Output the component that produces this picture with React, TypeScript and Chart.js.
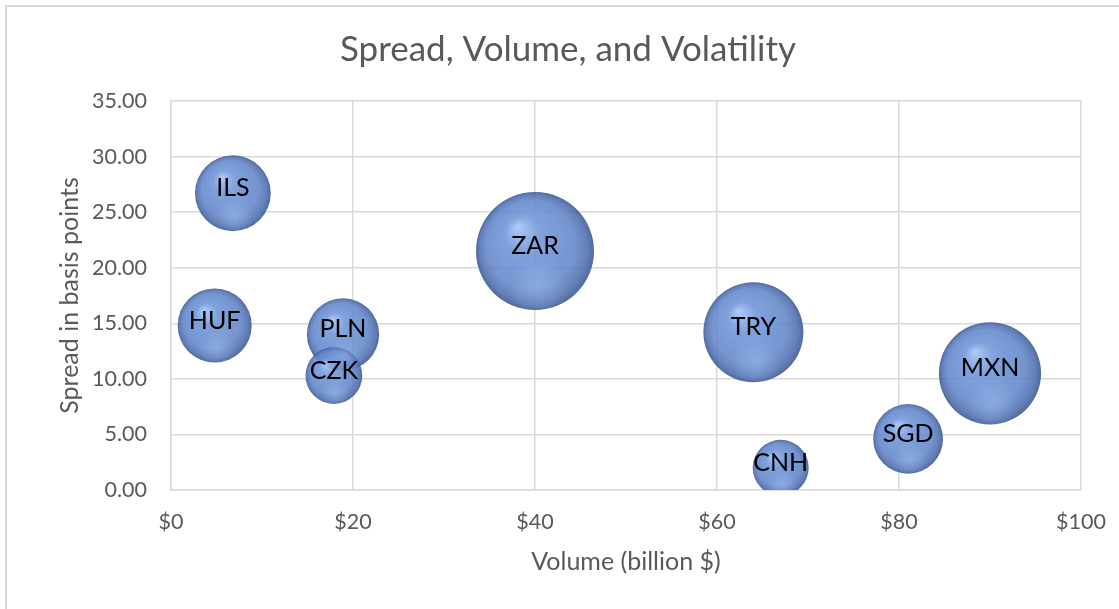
import React, { useEffect, useRef } from "react";
import { Chart, registerables, BubbleController } from "chart.js";

Chart.register(...registerables);

// Bubble controller that keeps the plot area fixed (Excel-like): no extra padding
// for the largest bubble, and bubbles clipped to the plot area.
class PlotBubbleController extends (BubbleController as any) {
  static id = "plotBubble";
  static defaults = (BubbleController as any).defaults;
  static overrides = (BubbleController as any).overrides;
  getMaxOverflow() {
    return 0;
  }
}
Chart.register(PlotBubbleController as any);

const currencies = ["ILS", "HUF", "ZAR", "PLN", "CZK", "TRY", "CNH", "SGD", "MXN"];
const volume = [6.8, 4.8, 40, 18.9, 17.9, 64, 67, 81, 90];
const spread = [26.7, 14.8, 21.5, 14.0, 10.3, 14.2, 2.0, 4.6, 10.5];
const volatility = [6.6, 6.3, 16, 6.0, 3.7, 11.5, 3.6, 5.6, 12];
const xTicks = [0, 20, 40, 60, 80, 100];
const yTicks = [0, 5, 10, 15, 20, 25, 30, 35];

const MAX_R = 59;
const maxVol = Math.max(...volatility);
const radiusFor = (v: number) => MAX_R * Math.sqrt(v / maxVol);

const FONT = "Lato, 'Open Sans', sans-serif";
const GREY = "#595959";
const FALLBACK = "rgba(105,142,208,0.87)";

const labelPlugin = {
  id: "bubbleLabels",
  afterDatasetsDraw(chart: any) {
    const meta = chart.getDatasetMeta(0);
    const ctx = chart.ctx;
    const area = chart.chartArea;
    ctx.save();
    ctx.beginPath();
    ctx.rect(area.left, area.top, area.right - area.left, area.bottom - area.top);
    ctx.clip();
    // soft bottom reflection inside each sphere
    meta.data.forEach((el: any) => {
      const r = el.options.radius;
      ctx.save();
      ctx.beginPath();
      ctx.arc(el.x, el.y, r, 0, Math.PI * 2);
      ctx.clip();
      const gy = el.y + 0.6 * r;
      const g = ctx.createRadialGradient(el.x + 0.05 * r, gy, 0, el.x + 0.05 * r, gy, 0.5 * r);
      g.addColorStop(0, "rgba(160,193,242,0.45)");
      g.addColorStop(1, "rgba(160,193,242,0)");
      ctx.fillStyle = g;
      ctx.fillRect(el.x - r, el.y - r, 2 * r, 2 * r);
      ctx.restore();
    });
    ctx.restore();

    ctx.save();
    ctx.font = `25px ${FONT}`;
    ctx.fillStyle = "#000";
    ctx.textAlign = "center";
    ctx.textBaseline = "middle";
    meta.data.forEach((el: any, i: number) => {
      ctx.fillText(currencies[i], el.x, el.y - 5);
    });
    ctx.restore();
  },
};

export default function App() {
  const ref = useRef<HTMLCanvasElement>(null);
  useEffect(() => {
    document.body.style.margin = "0";
    const canvas = ref.current!;
    const data = currencies.map((c, i) => ({ x: volume[i], y: spread[i], v: volatility[i] }));
    const chart = new Chart(canvas, {
      type: "plotBubble" as any,
      data: {
        datasets: [
          {
            label: "Currencies",
            data: data as any,
            radius: (c: any) => (c.raw ? radiusFor(c.raw.v) : 3),
            hoverRadius: 0,
            borderWidth: 0,
            hoverBorderWidth: 0,
            backgroundColor: (c: any) => {
              const chartRef = c.chart;
              if (!c.raw || !chartRef.scales || !chartRef.scales.x || !chartRef.scales.y) return FALLBACK;
              const cx = chartRef.scales.x.getPixelForValue(c.raw.x);
              const cy = chartRef.scales.y.getPixelForValue(c.raw.y);
              const r = radiusFor(c.raw.v);
              if (!isFinite(cx) || !isFinite(cy) || !isFinite(r)) return FALLBACK;
              const g = chartRef.ctx.createRadialGradient(
                cx - 0.3 * r,
                cy - 0.42 * r,
                0,
                cx,
                cy,
                r
              );
              g.addColorStop(0, "rgba(168,200,246,0.93)");
              g.addColorStop(0.3, "rgba(112,150,216,0.89)");
              g.addColorStop(0.75, "rgba(98,134,202,0.88)");
              g.addColorStop(0.92, "rgba(80,111,174,0.89)");
              g.addColorStop(1, "rgba(62,89,148,0.9)");
              return g;
            },
          } as any,
        ],
      },
      options: {
        responsive: false,
        animation: false,
        events: [],
        layout: { padding: { left: 55, right: 38, top: 0, bottom: 0 } },
        plugins: {
          legend: { display: false },
          tooltip: { enabled: false },
          title: {
            display: true,
            text: "Spread, Volume, and Volatility",
            color: GREY,
            font: { family: FONT, size: 35, weight: "normal" },
            padding: { top: 29, bottom: 30 },
          },
        },
        scales: {
          x: {
            type: "linear",
            position: "bottom",
            min: 0,
            max: 100,
            afterBuildTicks: (s: any) => {
              s.ticks = xTicks.map((v) => ({ value: v }));
            },
            afterFit: (s: any) => {
              s.height = 119;
            },
            ticks: {
              color: GREY,
              font: { family: FONT, size: 21.5 },
              padding: 0,
              callback: (v: any) => "$" + v,
            },
            grid: {
              color: "#d9d9d9",
              lineWidth: 1.5,
              drawTicks: true,
              tickLength: 19,
              tickColor: "rgba(0,0,0,0)",
            },
            border: { color: "#d9d9d9", width: 1.5 },
            title: {
              display: true,
              text: "Volume (billion $)",
              color: GREY,
              font: { family: FONT, size: 25 },
              padding: { top: 0, bottom: 32 },
            },
          },
          y: {
            type: "linear",
            position: "left",
            min: 0,
            max: 35,
            afterBuildTicks: (s: any) => {
              s.ticks = yTicks.map((v) => ({ value: v }));
            },
            afterFit: (s: any) => {
              s.width = 116;
            },
            ticks: {
              color: GREY,
              font: { family: FONT, size: 21.5 },
              padding: 24,
              callback: (v: any) => Number(v).toFixed(2),
            },
            grid: { color: "#d9d9d9", lineWidth: 1.5, drawTicks: false },
            border: { color: "#d9d9d9", width: 1.5 },
            title: {
              display: true,
              text: "Spread in basis points",
              color: GREY,
              font: { family: FONT, size: 25 },
              padding: { top: 0, bottom: 0 },
            },
          },
        },
      } as any,
      plugins: [labelPlugin],
    });
    return () => chart.destroy();
  }, []);

  return (
    <div
      style={{
        position: "relative",
        width: 1119,
        height: 609,
        overflow: "hidden",
        background: "#fff",
      }}
    >
      <canvas ref={ref} width={1119} height={609} style={{ display: "block", width: 1119, height: 609 }} />
      <div
        style={{
          position: "absolute",
          left: 5,
          top: 5,
          width: 1200,
          height: 700,
          borderTop: "2px solid #d9d9d9",
          borderLeft: "2px solid #d9d9d9",
          pointerEvents: "none",
        }}
      />
    </div>
  );
}
